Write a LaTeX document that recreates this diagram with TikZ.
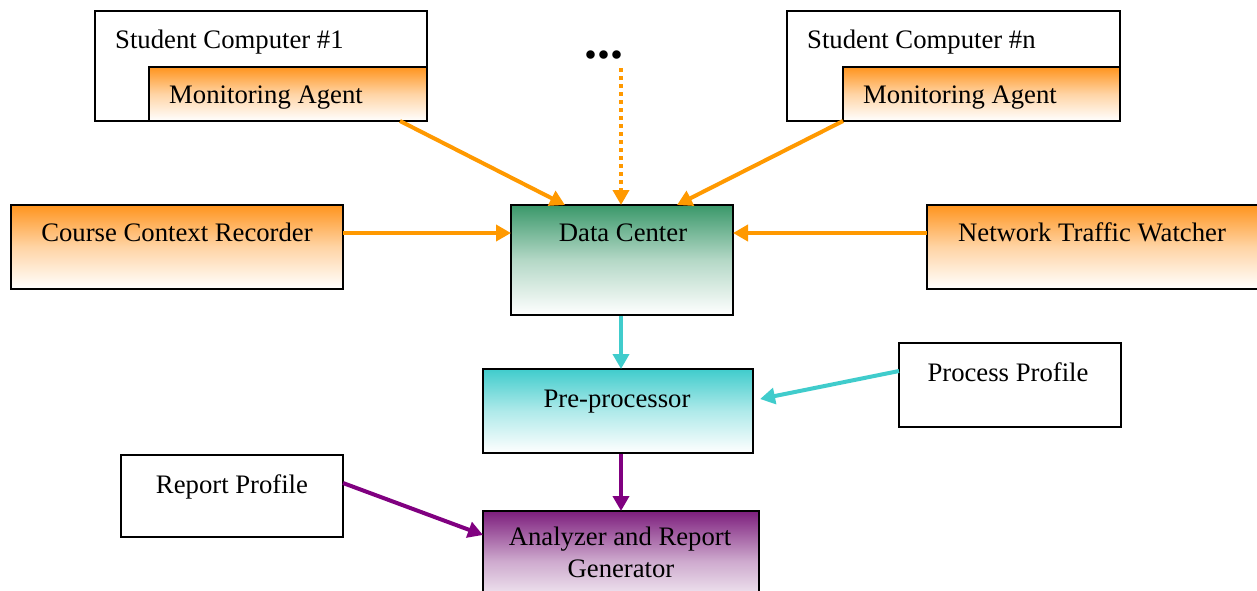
\documentclass[tikz,border=0pt]{standalone}
\usepackage{fontspec}
\setmainfont{Liberation Serif}
\usetikzlibrary{arrows.meta,calc}
\definecolor{orA}{RGB}{255,153,0}
\definecolor{orBox}{RGB}{255,148,30}
\definecolor{gnBox}{RGB}{58,152,106}
\definecolor{cyA}{RGB}{64,204,204}
\definecolor{puA}{RGB}{128,0,128}
\definecolor{puBox}{RGB}{125,30,125}
\tikzset{
  box/.style={draw=black, line width=2.6pt, rectangle, anchor=north west, inner sep=0pt, outer sep=0pt},
  obox/.style={box, top color=orBox, bottom color=white, middle color=orBox!40!white},
  gbox/.style={box, top color=gnBox, bottom color=white, middle color=gnBox!38!white},
  cbox/.style={box, top color=cyA, bottom color=white, middle color=cyA!42!white},
  pbox/.style={box, top color=puBox, bottom color=white, middle color=puBox!38!white},
  wbox/.style={box, fill=white},
  lbl/.style={anchor=base, inner sep=0pt, font=\fontsize{26.7}{31}\selectfont},
  arr/.style={line width=4pt, -{Triangle[width=16pt,length=15pt]}},
  oarr/.style={arr, draw=orA, color=orA},
  carr/.style={arr, draw=cyA, color=cyA},
  parr/.style={arr, draw=puA, color=puA},
}
\begin{document}
\begin{tikzpicture}[x=1pt,y=-1pt]
\useasboundingbox (0,0) rectangle (1257,590);
\clip (0,0) rectangle (1257,590);
% student computer 1
\node[wbox, minimum width=332pt, minimum height=110pt] (sc1) at (95,11) {};
\node[obox, minimum width=278pt, minimum height=54pt] (ma1) at (149,67) {};
\node[lbl, anchor=base west] (sc1t) at (115,48) {Student Computer \#1};
\node[lbl] (ma1t) at (266,103) {Monitoring Agent};
% student computer n
\node[wbox, minimum width=333pt, minimum height=110pt] (scn) at (787,11) {};
\node[obox, minimum width=277pt, minimum height=54pt] (man) at (843,67) {};
\node[lbl, anchor=base west] (scnt) at (807,48) {Student Computer \#n};
\node[lbl] (mant) at (960,103) {Monitoring Agent};
% dots
\node[anchor=base west, inner sep=0pt, font=\fontsize{52}{52}\selectfont\bfseries] (dots) at (584.5,58) {...};
\coordinate (dotstart) at (621,68);
% middle row
\node[obox, minimum width=332pt, minimum height=84pt] (ccr) at (11,205) {};
\node[lbl] (ccrt) at (177,241) {Course Context Recorder};
\node[gbox, minimum width=222pt, minimum height=110pt] (dc) at (511,205) {};
\node[lbl] (dct) at (623,241) {Data Center};
\node[obox, minimum width=332pt, minimum height=84pt] (ntw) at (927,205) {};
\node[lbl] (ntwt) at (1092,241) {Network Traffic Watcher};
% pre-processor row
\node[cbox, minimum width=270pt, minimum height=84pt] (pp) at (483,369) {};
\node[lbl] (ppt) at (617,407) {Pre-processor};
\node[wbox, minimum width=222pt, minimum height=84pt] (prof) at (899,343) {};
\node[lbl] (proft) at (1008,381) {Process Profile};
% bottom row
\node[wbox, minimum width=222pt, minimum height=82pt] (rp) at (121,455) {};
\node[lbl] (rpt) at (232,493) {Report Profile};
\node[pbox, minimum width=276pt, minimum height=100pt] (arg) at (483,511) {};
\node[lbl] (argt1) at (620,545) {Analyzer and Report};
\node[lbl] (argt2) at (621,577) {Generator};
% arrows
\draw[oarr] ($(ma1.south west)+(251,0)$) -- ($(dc.north west)+(54,0)$);
\draw[oarr] (man.south west) -- ($(dc.north west)+(166,0)$);
\draw[oarr, dash pattern=on 3.5pt off 4.5pt] (dotstart) -- ($(dc.north west)+(110,0)$);
\draw[oarr] ($(ccr.north east)+(0,28)$) -- ($(dc.north west)+(0,28)$);
\draw[oarr] ($(ntw.north west)+(0,28)$) -- ($(dc.north east)+(0,28)$);
\draw[carr] ($(dc.south west)+(110,1)$) -- ($(pp.north west)+(138,0)$);
\draw[carr] ($(prof.north west)+(0,28)$) -- ($(pp.north east)+(7,30)$);
\draw[parr] ($(pp.south west)+(138,1)$) -- ($(arg.north west)+(138,0)$);
\draw[parr] ($(rp.north east)+(0,28)$) -- ($(arg.north west)+(0,24)$);
\end{tikzpicture}
\end{document}
